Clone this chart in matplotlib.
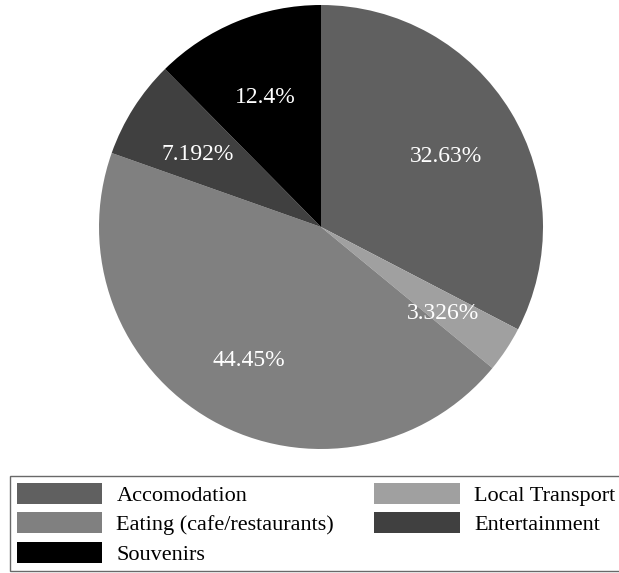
import matplotlib
matplotlib.use("Agg")
import matplotlib.pyplot as plt
from matplotlib.transforms import offset_copy

categories = ["Accomodation", "Local Transport", "Eating (cafe/restaurants)", "Entertainment", "Souvenirs"]
values = [32.63, 3.326, 44.45, 7.192, 12.4]
labels = ["32.63%", "3.326%", "44.45%", "7.192%", "12.4%"]
colors = ["#606060", "#a0a0a0", "#808080", "#404040", "#000000"]

plt.rcParams['font.family'] = ['Liberation Serif', 'DejaVu Serif']

W, H = 619, 573
fig = plt.figure(figsize=(W/100, H/100), dpi=100)
cx, cy, r = 321, 227, 222
ax = fig.add_axes([(cx - r)/W, (H - cy - r)/H, 2*r/W, 2*r/H])

wedges, texts = ax.pie(values, colors=colors, startangle=90, counterclock=False,
                       labels=labels, labeldistance=0.66,
                       textprops=dict(color="white", fontsize=17, ha="center", va="center"),
                       wedgeprops=dict(linewidth=0))
for t in texts:
    t.set_transform(offset_copy(t.get_transform(), fig=fig, x=0, y=-6, units="dots"))
ax.set_xlim(-1, 1)
ax.set_ylim(-1, 1)
ax.set_aspect("equal")
ax.axis("off")

order = [0, 2, 4, 1, 3]
leg = fig.legend([wedges[i] for i in order], [categories[i] for i in order], ncol=2,
                 loc="upper left",
                 bbox_to_anchor=(10/W, 1 - 476/H), bbox_transform=fig.transFigure,
                 borderaxespad=0, fontsize=16, handlelength=3.85, handleheight=1.1,
                 handletextpad=0.64, columnspacing=1.8, labelspacing=0.28,
                 fancybox=False, frameon=True, edgecolor="#444444", borderpad=0.3)
leg.get_frame().set_linewidth(1.0)

fig.savefig("out.png", dpi=100)
